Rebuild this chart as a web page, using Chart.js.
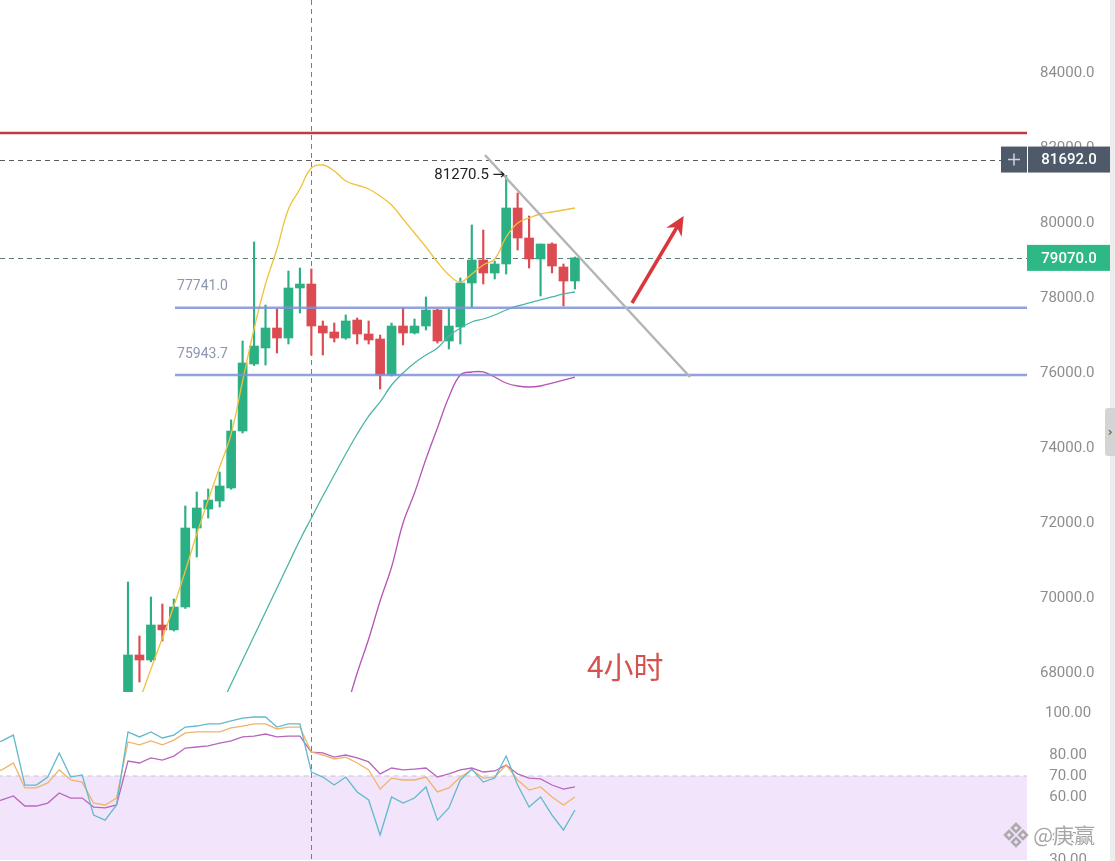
<!DOCTYPE html>
<html><head><meta charset="utf-8">
<script src="https://cdn.jsdelivr.net/npm/chart.js@4.4.1/dist/chart.umd.min.js"></script>
<style>
html,body{margin:0;padding:0;background:#fff;overflow:hidden;}
#wrap{position:relative;width:1115px;height:861px;background:#fff;}
#main{position:absolute;left:0;top:0;}
#rsi{position:absolute;left:0;top:692px;}
#strip{position:absolute;left:1110px;top:0;width:5px;height:861px;background:#ededed;}
#tab{position:absolute;left:1105px;top:408px;width:10px;height:48px;background:#d4d4d4;border-radius:3px 0 0 3px;color:#555;font:13px 'DejaVu Sans';line-height:48px;text-align:center;}
</style></head>
<body>
<div id="wrap">
<canvas id="main" width="1115" height="692"></canvas>
<canvas id="rsi" width="1115" height="169"></canvas>
<div id="strip"></div><div id="tab">›</div>
</div>
<script>
// ---------- data (4h candles, index 0..39) ----------
const opens  = [67200,68480,68347,69280,69150,69760,71867,72373,72587,72933,74453,76240,76667,77200,76933,78267,78373,77253,77093,76933,77413,77040,76907,75947,77253,77067,77253,77680,76853,77227,78400,79013,78667,78907,80400,79600,79040,79440,78827,78453];
const highs  = [70427,68987,70027,69840,69973,72453,72827,72907,73360,74750,76853,79493,77813,77707,78720,78800,78773,77387,77333,77547,77467,77387,77013,77333,77733,77440,78027,77700,77733,78533,79947,79813,78987,81270.5,80800,80187,79440,79470,78907,79093];
const lows   = [67100,67760,68300,68853,69120,69720,71093,72133,72427,72900,74400,76200,76213,76533,76773,77600,76480,76480,76827,76900,76773,76773,75573,75920,76747,77040,77147,76800,76640,76773,77760,78373,78507,78640,79280,78800,78053,78667,77787,78240];
const closes = [68480,68347,69280,69150,69760,71867,72400,72613,72987,74453,76267,76720,77200,76933,78267,78373,77253,77067,76933,77387,77040,76880,75947,77253,77067,77253,77680,76853,77253,78400,79013,78667,78907,80400,79600,79040,79440,78853,78453,79070];
const ma7  = [66427,67253,68107,68933,69787,70720,71707,72613,73493,74373,75787,77173,78373,79307,80373,80907,81467,81547,81387,81120,81013,80907,80720,80480,80107,79733,79360,78960,78613,78427,78640,78880,79040,79627,80000,80133,80240,80293,80347,80400];
const ma25 = [null,null,null,null,null,null,null,null,67067,67707,68347,68987,69627,70267,70907,71547,72133,72720,73280,73840,74373,74853,75227,75680,76000,76267,76480,76667,76987,77200,77360,77440,77547,77680,77787,77867,77947,78027,78107,78160];
const ma99 = [null,null,null,null,null,null,null,null,null,null,null,null,null,null,null,null,null,null,null,66987,68000,68907,69920,70827,72000,72800,73707,74533,75360,75947,76027,76027,75893,75733,75653,75627,75653,75733,75813,75893];
// RSI values start 12 bars before the first visible candle
const rsiStart = -12;
const rsi6  = [84.8,86.7,89.5,65.7,65.7,69.5,81.0,69.5,70.5,51.4,49.0,56.2,91.0,88.6,91.0,88.1,89.5,93.3,93.8,94.8,94.8,96.2,97.6,98.1,98.1,93.3,94.8,94.8,71.9,69.5,65.7,69.5,62.4,58.6,41.9,60.0,57.1,59.5,64.8,49.0,54.8,68.1,73.3,67.1,69.0,79.5,65.7,55.2,60.0,51.4,44.3,53.8];
const rsi12 = [71.9,72.9,76.2,64.3,64.3,66.7,72.9,68.1,67.1,57.1,56.2,59.5,86.2,84.8,86.7,84.8,87.1,90.5,91.0,91.0,91.0,92.9,93.8,94.8,94.8,92.4,93.3,93.3,81.4,80.0,78.1,79.0,76.2,72.9,63.8,69.0,68.1,68.1,69.5,62.4,64.3,69.5,72.9,69.0,69.5,75.2,68.1,63.3,64.8,60.0,56.2,60.0];
const rsi24 = [57.6,58.6,60.5,55.7,55.7,57.1,61.9,59.5,59.5,55.2,54.8,56.2,77.1,76.2,78.6,77.6,79.5,83.3,83.8,84.3,85.7,86.7,88.6,89.0,90.0,88.6,89.0,89.0,81.4,81.0,79.0,80.0,78.6,76.7,71.0,73.8,72.9,73.3,73.8,69.5,71.0,72.9,73.8,71.9,72.4,75.2,71.0,69.0,68.6,65.7,63.8,64.8];
const priceTicks = [68000,70000,72000,74000,76000,78000,80000,82000,84000];
const rsiTicks = [100,80,70,60,40,30];
const rsiBand = [30,70];
// levels & annotations
const resistance = 82400;
const supportLevels = [77741.0, 75943.7];
const supportStart = 4.1;
const lastPrice = 79070.0;
const crossPrice = 81692.0;
const crossIndex = 16;
const peakIndex = 33;
const trendX = [31.15, 49.04], trendY = [81813, 75893];
const arrowX = [43.98, 48.17], arrowY = [77867, 80027];
const noteText = '4小时', noteX = 40.05, noteY = 68160;
const xMin = -11.169, xMax = 78.447;

// ---------- style ----------
const GREEN = '#2bb084', RED = '#dc4a52';
Chart.defaults.font.family = 'Roboto, "Noto Sans", sans-serif';
const idx = opens.map((_, i) => i);
const candleColors = idx.map(i => closes[i] >= opens[i] ? GREEN : RED);
const xy = arr => arr.map((v, i) => ({x: i, y: v}));
const levelLine = (v, x0) => [{x: x0, y: v}, {x: xMax + 1, y: v}];
const fixAxis = (w) => function(scale){ scale.width = w; scale.paddingTop = 0; scale.paddingBottom = 0; };

const mainPlugin = {
  id: 'mainAnnot',
  beforeDatasetsDraw(chart) {
    const {ctx, chartArea: a, scales: {x, y}} = chart;
    ctx.save();
    ctx.lineWidth = 1;
    ctx.setLineDash([5, 4]);
    const cx = Math.round(x.getPixelForValue(crossIndex)) + 0.5;
    ctx.strokeStyle = '#7d7d7d';
    ctx.beginPath(); ctx.moveTo(cx, 0); ctx.lineTo(cx, chart.height); ctx.stroke();
    const hy = Math.round(y.getPixelForValue(crossPrice)) + 0.5;
    ctx.strokeStyle = '#5a5a5a';
    ctx.beginPath(); ctx.moveTo(a.left, hy); ctx.lineTo(a.right - 26, hy); ctx.stroke();
    const ly = Math.round(y.getPixelForValue(lastPrice)) + 0.5;
    ctx.strokeStyle = '#5f7e77';
    ctx.beginPath(); ctx.moveTo(a.left, ly); ctx.lineTo(a.right, ly); ctx.stroke();
    ctx.restore();
  },
  afterDatasetsDraw(chart) {
    const {ctx, scales: {x, y}} = chart;
    ctx.save();
    // arrow head
    const x1 = x.getPixelForValue(arrowX[0]), y1 = y.getPixelForValue(arrowY[0]);
    const x2 = x.getPixelForValue(arrowX[1]), y2 = y.getPixelForValue(arrowY[1]);
    const ang = Math.atan2(y2 - y1, x2 - x1);
    const c = Math.cos(ang), s = Math.sin(ang);
    const tipX = x2 + c * 7, tipY = y2 + s * 7;
    ctx.fillStyle = '#d8383c';
    ctx.beginPath();
    ctx.moveTo(tipX, tipY);
    ctx.lineTo(tipX - c * 19 + s * 9, tipY - s * 19 - c * 9);
    ctx.lineTo(tipX - c * 13, tipY - s * 13);
    ctx.lineTo(tipX - c * 19 - s * 9, tipY - s * 19 + c * 9);
    ctx.closePath(); ctx.fill();
    // level labels
    ctx.font = '14px Roboto';
    ctx.fillStyle = '#8c96b4';
    ctx.textBaseline = 'middle';
    ctx.textAlign = 'left';
    supportLevels.forEach(v => {
      ctx.fillText(v.toFixed(1), x.getPixelForValue(supportStart + 0.18), y.getPixelForValue(v) - 21);
    });
    // peak label
    ctx.fillStyle = '#222';
    ctx.font = '15px Roboto, "DejaVu Sans"';
    ctx.textAlign = 'right';
    ctx.fillText(highs[peakIndex].toFixed(1) + ' →', x.getPixelForValue(peakIndex) - 1, y.getPixelForValue(highs[peakIndex]));
    // note
    ctx.fillStyle = '#d4524f';
    ctx.font = '30px "Noto Sans CJK SC"';
    ctx.textAlign = 'left';
    ctx.fillText(noteText, x.getPixelForValue(noteX), y.getPixelForValue(noteY));
    ctx.restore();
  },
  afterDraw(chart) {
    const {ctx, chartArea: a, scales: {y}} = chart;
    ctx.save();
    ctx.textAlign = 'center'; ctx.textBaseline = 'middle';
    ctx.font = '500 15px Roboto';
    const by = y.getPixelForValue(crossPrice);
    ctx.fillStyle = '#4e5969';
    ctx.fillRect(a.right - 26, by - 13, 26, 26);
    ctx.fillRect(a.right + 1, by - 13, 82, 26);
    ctx.strokeStyle = '#cfd4dc'; ctx.lineWidth = 1.5;
    ctx.beginPath();
    ctx.moveTo(a.right - 19, by); ctx.lineTo(a.right - 7, by);
    ctx.moveTo(a.right - 13, by - 6); ctx.lineTo(a.right - 13, by + 6);
    ctx.stroke();
    ctx.fillStyle = '#fff';
    ctx.fillText(crossPrice.toFixed(1), a.right + 42, by + 1);
    const ly = y.getPixelForValue(lastPrice);
    ctx.fillStyle = '#2db886';
    ctx.fillRect(a.right, ly - 13, 83, 26);
    ctx.fillStyle = '#fff';
    ctx.fillText(lastPrice.toFixed(1), a.right + 42, ly + 1);
    ctx.restore();
  }
};

new Chart(document.getElementById('main'), {
  type: 'bar',
  data: {
    datasets: [
      {type: 'line', label: 'arrow', data: arrowX.map((v, i) => ({x: v, y: arrowY[i]})), borderColor: '#d8383c', borderWidth: 3.5, pointRadius: 0, order: 1},
      {type: 'line', label: 'trend', data: trendX.map((v, i) => ({x: v, y: trendY[i]})), borderColor: '#b4b4b4', borderWidth: 2.5, pointRadius: 0, order: 2},
      {type: 'line', label: 'res', data: levelLine(resistance, xMin - 1), borderColor: '#c23a3d', borderWidth: 2.5, pointRadius: 0, order: 3},
      {type: 'line', label: 's1', data: levelLine(supportLevels[0], supportStart), borderColor: 'rgba(128,146,214,0.85)', borderWidth: 2.5, pointRadius: 0, order: 3},
      {type: 'line', label: 's2', data: levelLine(supportLevels[1], supportStart), borderColor: 'rgba(128,146,214,0.85)', borderWidth: 2.5, pointRadius: 0, order: 3},
      {type: 'line', label: 'MA7', data: xy(ma7), borderColor: '#eec23c', borderWidth: 1.3, pointRadius: 0, tension: 0.4, order: 4},
      {type: 'line', label: 'MA25', data: xy(ma25), borderColor: '#4db5a7', borderWidth: 1.3, pointRadius: 0, tension: 0.4, order: 4},
      {type: 'line', label: 'MA99', data: xy(ma99), borderColor: '#b553b4', borderWidth: 1.3, pointRadius: 0, tension: 0.4, order: 4},
      {type: 'bar', label: 'body', data: idx.map(i => ({x: i, y: [opens[i], closes[i]]})), backgroundColor: candleColors, barThickness: 9, maxBarThickness: 9, grouped: false, minBarLength: 1.5, borderWidth: 0, order: 5},
      {type: 'bar', label: 'wick', data: idx.map(i => ({x: i, y: [lows[i], highs[i]]})), backgroundColor: candleColors, barThickness: 1.5, maxBarThickness: 1.5, grouped: false, borderWidth: 0, order: 6}
    ]
  },
  options: {
    responsive: false, animation: false, events: [],
    layout: {padding: 0},
    plugins: {legend: {display: false}, tooltip: {enabled: false}},
    scales: {
      x: {type: 'linear', min: xMin, max: xMax, offset: false, display: false},
      y: {
        position: 'right', min: 67493.3, max: 85946.7,
        grid: {display: false, drawTicks: false}, border: {display: false},
        afterBuildTicks: s => { s.ticks = priceTicks.map(v => ({value: v})); },
        ticks: {color: '#8e8e8e', font: {size: 15}, padding: 13, crossAlign: 'center', callback: v => Number(v).toFixed(1)},
        afterFit: fixAxis(88)
      }
    }
  },
  plugins: [mainPlugin]
});

const rsiPlugin = {
  id: 'rsiAnnot',
  afterDatasetsDraw(chart) {
    const {ctx, scales: {x}} = chart;
    ctx.save();
    ctx.setLineDash([5, 4]); ctx.lineWidth = 1; ctx.strokeStyle = '#7d7d7d';
    const cx = Math.round(x.getPixelForValue(crossIndex)) + 0.5;
    ctx.beginPath(); ctx.moveTo(cx, 0); ctx.lineTo(cx, chart.height); ctx.stroke();
    ctx.restore();
  },
  afterDraw(chart) {
    const {ctx} = chart;
    ctx.save();
    const wy = 143, lx = chart.width - 99;
    ctx.strokeStyle = 'rgba(160,160,160,0.85)'; ctx.lineWidth = 2.5;
    const d = (cx, cy, r) => { ctx.beginPath(); ctx.moveTo(cx, cy - r); ctx.lineTo(cx + r, cy); ctx.lineTo(cx, cy + r); ctx.lineTo(cx - r, cy); ctx.closePath(); ctx.stroke(); };
    d(lx, wy - 7, 4); d(lx - 7, wy, 4); d(lx + 7, wy, 4); d(lx, wy + 7, 4);
    ctx.font = '21px "Noto Sans CJK SC"';
    ctx.textAlign = 'right'; ctx.textBaseline = 'middle';
    ctx.lineWidth = 3; ctx.strokeStyle = 'rgba(255,255,255,0.9)';
    ctx.strokeText('@庚赢', chart.width - 20, wy);
    ctx.fillStyle = 'rgba(150,150,150,0.85)';
    ctx.fillText('@庚赢', chart.width - 20, wy);
    ctx.restore();
  }
};

const rxy = arr => arr.map((v, i) => ({x: i + rsiStart, y: v}));
new Chart(document.getElementById('rsi'), {
  type: 'line',
  data: {
    datasets: [
      {label: 'RSI6', data: rxy(rsi6), borderColor: '#62b9cb', borderWidth: 1.3, pointRadius: 0, tension: 0, order: 1},
      {label: 'RSI12', data: rxy(rsi12), borderColor: '#efb46c', borderWidth: 1.3, pointRadius: 0, tension: 0, order: 2},
      {label: 'RSI24', data: rxy(rsi24), borderColor: '#b866bd', borderWidth: 1.3, pointRadius: 0, tension: 0, order: 3},
      {label: 'hi', data: levelLine(rsiBand[1], xMin - 1), borderColor: '#c9bfd2', borderDash: [5, 4], borderWidth: 1, pointRadius: 0, order: 5},
      {label: 'lo', data: levelLine(rsiBand[0], xMin - 1), borderWidth: 0, pointRadius: 0, fill: '-1', backgroundColor: '#f2e5fb', order: 6}
    ]
  },
  options: {
    responsive: false, animation: false, events: [],
    layout: {padding: 0},
    plugins: {legend: {display: false}, tooltip: {enabled: false}},
    scales: {
      x: {type: 'linear', min: xMin, max: xMax, offset: false, display: false},
      y: {
        position: 'right', min: 29.52, max: 110,
        grid: {display: false, drawTicks: false}, border: {display: false},
        afterBuildTicks: s => { s.ticks = rsiTicks.map(v => ({value: v})); },
        ticks: {color: '#8e8e8e', font: {size: 15}, padding: 18, crossAlign: 'center', callback: v => Number(v).toFixed(2)},
        afterFit: fixAxis(88)
      }
    }
  },
  plugins: [rsiPlugin]
});
</script>
</body></html>
